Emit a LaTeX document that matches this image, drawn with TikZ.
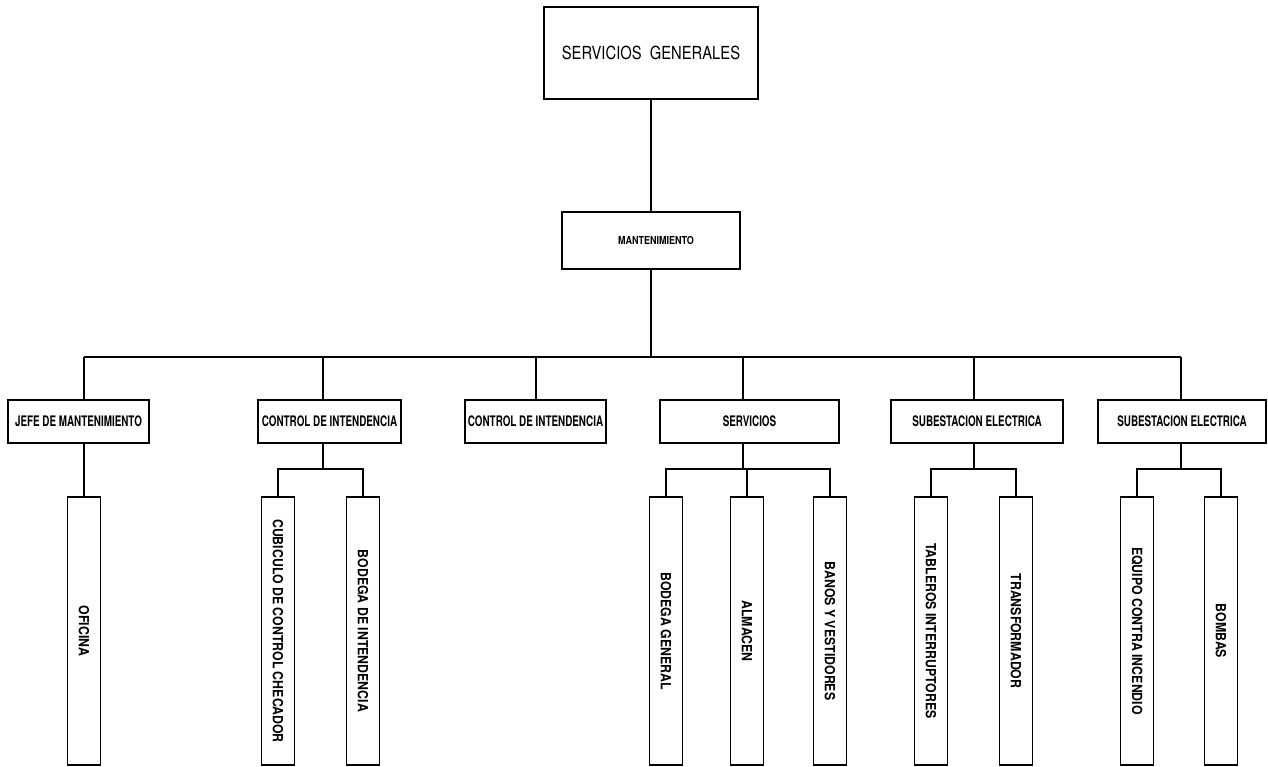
\documentclass[tikz,border=0pt]{standalone}
\usepackage{fontspec}
\newfontfamily\topfont[FakeStretch=0.82]{TeX Gyre Heros}
\newfontfamily\midfont[FakeStretch=0.68]{TeX Gyre Heros}
\newfontfamily\mantfont[FakeStretch=0.82]{TeX Gyre Heros}
\newfontfamily\leaffont[FakeStretch=0.88]{TeX Gyre Heros}
\begin{document}
\begin{tikzpicture}[x=1pt,y=-1pt,
  box/.style={draw, rectangle, line width=1.6pt, inner sep=0pt, outer sep=0pt},
  topbox/.style={box, minimum width=214pt, minimum height=92pt, font=\topfont\fontsize{18}{18}\selectfont},
  mantbox/.style={box, minimum width=178pt, minimum height=57pt, font=\mantfont\bfseries\fontsize{11}{11}\selectfont},
  midbox/.style={box, minimum height=43pt, font=\midfont\bfseries\fontsize{14.5}{14.5}\selectfont},
  leafbox/.style={box, minimum width=33pt, minimum height=268pt, font=\leaffont\bfseries\fontsize{14}{14}\selectfont},
  conn/.style={draw, line width=1.2pt}]
\useasboundingbox (0,0) rectangle (1268,766);
% top levels
\node[topbox] (sg) at (651,53) {SERVICIOS\ \ GENERALES};
\node[mantbox] (mant) at (651,240.5) {\hspace*{10pt}MANTENIMIENTO};
% level 2
\node[midbox, minimum width=141pt] (jefe) at (78.5,421.5) {JEFE DE MANTENIMIENTO};
\node[midbox, minimum width=143pt] (ci1) at (329.5,421.5) {CONTROL DE INTENDENCIA};
\node[midbox, minimum width=141pt] (ci2) at (535.5,421.5) {CONTROL DE INTENDENCIA};
\node[midbox, minimum width=179pt] (serv) at (749.5,421.5) {SERVICIOS};
\node[midbox, minimum width=172pt] (sub1) at (977,421.5) {SUBESTACION ELECTRICA};
\node[midbox, minimum width=168pt] (sub2) at (1182,421.5) {SUBESTACION ELECTRICA};
% leaves
\node[leafbox] (ofi) at (84,631) {\rotatebox{-90}{OFICINA}};
\node[leafbox] (cub) at (278,631) {\rotatebox{-90}{CUBICULO DE CONTROL CHECADOR}};
\node[leafbox] (bint) at (363,631) {\rotatebox{-90}{BODEGA DE INTENDENCIA}};
\node[leafbox] (bgen) at (666,631) {\rotatebox{-90}{BODEGA GENERAL}};
\node[leafbox] (alm) at (747,631) {\rotatebox{-90}{ALMACEN}};
\node[leafbox] (ban) at (830,631) {\rotatebox{-90}{BANOS Y VESTIDORES}};
\node[leafbox] (tab) at (931,631) {\rotatebox{-90}{TABLEROS INTERRUPTORES}};
\node[leafbox] (tra) at (1016,631) {\rotatebox{-90}{TRANSFORMADOR}};
\node[leafbox] (equ) at (1137,631) {\rotatebox{-90}{EQUIPO CONTRA INCENDIO}};
\node[leafbox] (bom) at (1221,631) {\rotatebox{-90}{BOMBAS}};
% bus coordinates
\coordinate (bus) at (649,357);
\coordinate (b1) at (84,357);
\coordinate (b2) at (323,357);
\coordinate (b3) at (536,357);
\coordinate (b4) at (743,357);
\coordinate (b5) at (974,357);
\coordinate (b6) at (1181,357);
\coordinate (s2) at (323,469);
\coordinate (s4) at (743,469);
\coordinate (s5) at (974,469);
\coordinate (s6) at (1181,469);
% connectors
\draw[conn] (sg) -- (mant);
\draw[conn] (mant.south) -- (mant.south |- bus);
\draw[conn] (b1) -- (b6);
\draw[conn] (b1) -- (b1 |- jefe.north);
\draw[conn] (b2) -- (b2 |- ci1.north);
\draw[conn] (b3) -- (b3 |- ci2.north);
\draw[conn] (b4) -- (b4 |- serv.north);
\draw[conn] (b5) -- (b5 |- sub1.north);
\draw[conn] (b6) -- (b6 |- sub2.north);
% sub-branches
\draw[conn] (ofi.north |- jefe.south) -- (ofi.north);
\draw[conn] (s2 |- ci1.south) -- (s2);
\draw[conn] (cub.north) |- (s2) -| (bint.north);
\draw[conn] (s4 |- serv.south) -- (s4);
\draw[conn] (bgen.north) |- (s4) -| (ban.north);
\draw[conn] (alm.north) -- (alm.north |- s4);
\draw[conn] (s5 |- sub1.south) -- (s5);
\draw[conn] (tab.north) |- (s5) -| (tra.north);
\draw[conn] (s6 |- sub2.south) -- (s6);
\draw[conn] (equ.north) |- (s6) -| (bom.north);
\end{tikzpicture}
\end{document}
